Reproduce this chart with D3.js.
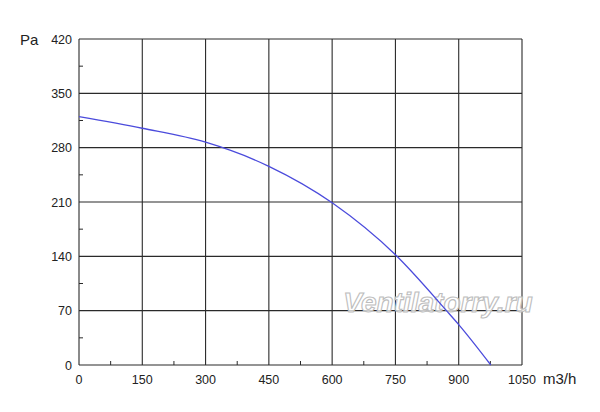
<!DOCTYPE html>
<html><head><meta charset="utf-8">
<script src="https://cdn.jsdelivr.net/npm/d3@7"></script>
<style>body{margin:0;background:#fff}text{font-family:"Liberation Sans",Arial,sans-serif;fill:#222}</style>
</head><body>
<svg id="c" width="600" height="412"></svg>
<script>
const xTicks = [0,150,300,450,600,750,900,1050];
const yTicks = [0,70,140,210,280,350,420];
const flow = [0,150,300,450,600,750,871,900,976];
const pressure = [320,305,287,256,209,142,70,52,0];

const svg = d3.select("#c");
const L=79,R=522,T=39,B=365;
const x = d3.scaleLinear().domain([0,1050]).range([L,R]);
const y = d3.scaleLinear().domain([0,420]).range([B,T]);

// grid
svg.append("g").selectAll("line").data(xTicks).join("line")
  .attr("x1",d=>x(d)).attr("x2",d=>x(d)).attr("y1",T).attr("y2",B)
  .attr("stroke","#2a2a2a").attr("stroke-width",1.1);
svg.append("g").selectAll("line").data(yTicks).join("line")
  .attr("y1",d=>y(d)).attr("y2",d=>y(d)).attr("x1",L).attr("x2",R)
  .attr("stroke","#2a2a2a").attr("stroke-width",1.1);

// minor ticks
const xMinor = xTicks.slice(0,-1).map(d=>d+75);
const yMinor = yTicks.slice(0,-1).map(d=>d+35);
svg.append("g").selectAll("line").data(xMinor).join("line")
  .attr("x1",d=>x(d)).attr("x2",d=>x(d)).attr("y1",B).attr("y2",B-4)
  .attr("stroke","#2a2a2a");
svg.append("g").selectAll("line").data(yMinor).join("line")
  .attr("y1",d=>y(d)).attr("y2",d=>y(d)).attr("x1",L).attr("x2",L+4)
  .attr("stroke","#2a2a2a");

// tick labels
svg.append("g").selectAll("text").data(yTicks).join("text")
  .attr("x",L-7).attr("y",d=>y(d)+4.5).attr("text-anchor","end")
  .attr("font-size",12.5).text(d=>d);
svg.append("g").selectAll("text").data(xTicks).join("text")
  .attr("x",d=>x(d)).attr("y",B+19).attr("text-anchor","middle")
  .attr("font-size",12.5).text(d=>d);

svg.append("text").attr("x",20).attr("y",45).attr("font-size",15).text("Pa");
svg.append("text").attr("x",543).attr("y",384).attr("font-size",15).text("m3/h");

// watermark
svg.append("text").attr("x",438).attr("y",312).attr("text-anchor","middle")
  .attr("font-size",28).attr("font-style","italic").attr("font-weight","bold")
  .style("fill","#fff").style("fill-opacity",0.75)
  .attr("stroke","#bdbdbd").attr("stroke-width",1.1)
  .text("Ventilatorry.ru");

// curve
const pts = flow.map((f,i)=>[f,pressure[i]]);
svg.append("path").datum(pts)
  .attr("d",d3.line().x(d=>x(d[0])).y(d=>y(d[1])).curve(d3.curveMonotoneX))
  .attr("fill","none").attr("stroke","#4b4bdc").attr("stroke-width",1.3);
</script>
</body></html>
